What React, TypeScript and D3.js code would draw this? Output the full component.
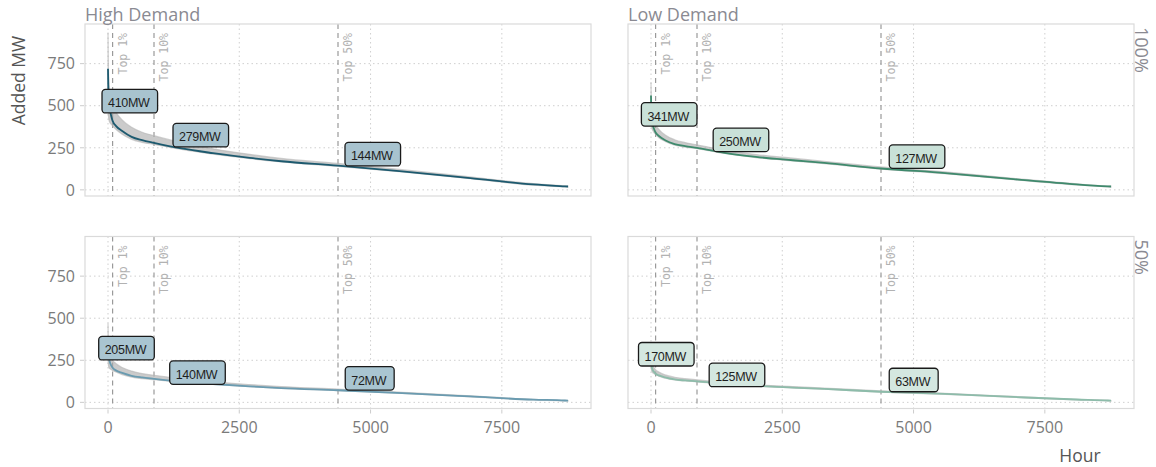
import React, { useEffect, useRef } from 'react';
import * as d3 from 'd3';

// Load-duration sample hours (sorted hours of the year)
const hours = [0, 5, 15, 35, 60, 87.6, 150, 270, 450, 650, 876, 1400, 2000, 2700, 3300, 4380, 5600, 6900, 8100, 8700, 8760];

// High Demand, 100%
const highFull = [720, 620, 540, 480, 440, 410, 380, 350, 315, 295, 279, 246, 218, 190, 170, 144, 110, 70, 32, 21, 20];
const highFullLo = [560, 460, 420, 400, 390, 380, 360, 330, 300, 282, 270, 240, 212, 186, 166, 140, 106, 66, 28, 18, 17];
const highFullHi = [935, 780, 660, 580, 530, 500, 462, 415, 372, 342, 322, 280, 244, 211, 187, 157, 120, 77, 37, 24, 22];

// Low Demand, 100%
const lowFull = [560, 470, 420, 385, 360, 341, 320, 295, 272, 260, 250, 220, 196, 176, 160, 127, 100, 64, 33, 21, 20];
const lowFullLo = [470, 400, 370, 352, 340, 330, 310, 288, 266, 254, 245, 216, 192, 172, 156, 123, 96, 60, 29, 18, 17];
const lowFullHi = [640, 550, 480, 440, 410, 388, 360, 326, 298, 281, 268, 236, 210, 188, 170, 136, 107, 69, 36, 23, 22];

// High Demand, 50%
const highHalf = [360, 310, 270, 240, 220, 205, 190, 175, 158, 148, 140, 123, 109, 95, 85, 72, 55, 35, 16, 11, 10];
const highHalfLo = [280, 230, 210, 200, 195, 190, 180, 165, 150, 141, 135, 120, 106, 93, 83, 70, 53, 33, 14, 9, 8];
const highHalfHi = [470, 390, 330, 290, 265, 250, 231, 207, 186, 171, 161, 140, 122, 106, 94, 79, 60, 39, 18, 12, 11];

// Low Demand, 50%
const lowHalf = [280, 235, 210, 192, 180, 170, 160, 148, 136, 130, 125, 110, 98, 88, 80, 63, 50, 32, 17, 11, 10];
const lowHalfLo = [235, 200, 185, 176, 170, 165, 155, 144, 133, 127, 122, 108, 96, 86, 78, 61, 48, 30, 15, 9, 8];
const lowHalfHi = [320, 275, 240, 220, 205, 194, 180, 163, 149, 141, 134, 118, 105, 94, 85, 68, 54, 35, 18, 12, 11];

// Percentile markers
const percentileHours = [87.6, 876, 4380];
const percentileNames = ['Top 1%', 'Top 10%', 'Top 50%'];

// Value labels at the percentile markers, with their label anchor (hour, MW)
const highFullLabels = [410, 279, 144];
const highFullLabelHour = [-114, 1238, 4513];
const highFullLabelMW = [457, 255, 142];
const lowFullLabels = [341, 250, 127];
const lowFullLabelHour = [-183, 1184, 4537];
const lowFullLabelMW = [379, 227, 128];
const highHalfLabels = [205, 140, 72];
const highHalfLabelHour = [-177, 1175, 4518];
const highHalfLabelMW = [252, 107, 73];
const lowHalfLabels = [170, 125, 63];
const lowHalfLabelHour = [-238, 1108, 4537];
const lowHalfLabelMW = [216, 93, 63];

const xTicks = [0, 2500, 5000, 7500];
const yTicks = [0, 250, 500, 750];
const demandNames = ['High Demand', 'Low Demand'];
const shareNames = ['100%', '50%'];

const W = 1156;
const H = 467;
const SANS = "'Open Sans', 'Noto Sans', sans-serif";

export default function App() {
  const ref = useRef<SVGSVGElement | null>(null);

  useEffect(() => {
    const svg = d3.select(ref.current);
    svg.selectAll('*').remove();

    const panelW = 506;
    const panelH = 172;
    const colX = [85, 628];
    const rowY = [24, 236.5];

    const x = d3.scaleLinear().domain([-438, 9198]).range([0, panelW]);
    const y = d3.scaleLinear().domain([-36.5, 985.5]).range([panelH, 0]);

    const panels = [
      { col: 0, row: 0, line: highFull, lo: highFullLo, hi: highFullHi, labels: highFullLabels, lh: highFullLabelHour, lm: highFullLabelMW, color: '#1d5a6f', fill: '#a8c3cf' },
      { col: 1, row: 0, line: lowFull, lo: lowFullLo, hi: lowFullHi, labels: lowFullLabels, lh: lowFullLabelHour, lm: lowFullLabelMW, color: '#3f8a6d', fill: '#c9e1d8' },
      { col: 0, row: 1, line: highHalf, lo: highHalfLo, hi: highHalfHi, labels: highHalfLabels, lh: highHalfLabelHour, lm: highHalfLabelMW, color: '#6a9bb0', fill: '#a9c5d1' },
      { col: 1, row: 1, line: lowHalf, lo: lowHalfLo, hi: lowHalfHi, labels: lowHalfLabels, lh: lowHalfLabelHour, lm: lowHalfLabelMW, color: '#8dbcaa', fill: '#d4e7e0' },
    ];

    panels.forEach((p) => {
      const g = svg.append('g').attr('transform', `translate(${colX[p.col]},${rowY[p.row]})`);

      // grid
      g.selectAll('.gx').data(xTicks).enter().append('line')
        .attr('x1', (d) => x(d)).attr('x2', (d) => x(d))
        .attr('y1', 0).attr('y2', panelH)
        .attr('stroke', '#cfcfcf').attr('stroke-width', 1).attr('stroke-dasharray', '1.5,3');
      g.selectAll('.gy').data(yTicks).enter().append('line')
        .attr('x1', 0).attr('x2', panelW)
        .attr('y1', (d) => y(d)).attr('y2', (d) => y(d))
        .attr('stroke', '#cfcfcf').attr('stroke-width', 1).attr('stroke-dasharray', '1.5,3');

      // percentile markers
      g.selectAll('.pl').data(percentileHours).enter().append('line')
        .attr('x1', (d) => x(d)).attr('x2', (d) => x(d))
        .attr('y1', 0).attr('y2', panelH)
        .attr('stroke', '#9a9a9a').attr('stroke-width', 1.2).attr('stroke-dasharray', '5,4');
      g.selectAll('.pt').data(percentileHours).enter().append('text')
        .attr('transform', (d) => `translate(${x(d) + 14},9) rotate(-90)`)
        .attr('text-anchor', 'end')
        .attr('font-family', "'DejaVu Sans Mono', monospace")
        .attr('font-size', 11.5)
        .attr('fill', '#b2b2b2')
        .text((_, i) => percentileNames[i]);

      const pts = hours.map((h, i) => ({ h, v: p.line[i], lo: p.lo[i], hi: p.hi[i] }));

      const band = d3.area<any>()
        .x((d) => x(d.h)).y0((d) => y(d.lo)).y1((d) => y(d.hi))
        .curve(d3.curveMonotoneX);
      g.append('path').attr('d', band(pts) as string)
        .attr('fill', '#a9a9a9').attr('fill-opacity', 0.6)
        .attr('stroke', '#b5b5b5').attr('stroke-width', 1.2).attr('stroke-opacity', 0.6);

      const line = d3.line<any>().x((d) => x(d.h)).y((d) => y(d.v)).curve(d3.curveMonotoneX);
      g.append('path').attr('d', line(pts) as string)
        .attr('fill', 'none').attr('stroke', p.color).attr('stroke-width', 1.8);

      // value labels
      p.labels.forEach((val, i) => {
        const lx = x(p.lh[i]);
        const by = y(p.lm[i]);
        const lg = g.append('g');
        const rect = lg.append('rect');
        const t = lg.append('text')
          .attr('x', lx + 6).attr('y', by - 5.5)
          .attr('font-family', "'Liberation Sans', Arial, sans-serif")
          .attr('font-size', 12.5)
          .attr('letter-spacing', -0.3)
          .attr('fill', '#1e1e1e')
          .text(`${val}MW`);
        const tw = (t.node() as SVGTextElement).getComputedTextLength();
        rect.attr('x', lx).attr('y', by - 23.5).attr('width', tw + 14).attr('height', 23.5)
          .attr('rx', 3.5).attr('ry', 3.5)
          .attr('fill', p.fill).attr('stroke', '#1a1a1a').attr('stroke-width', 1.3);
      });

      // panel border
      g.append('rect').attr('x', 0).attr('y', 0).attr('width', panelW).attr('height', panelH)
        .attr('fill', 'none').attr('stroke', '#dadada').attr('stroke-width', 1.2);

      // y axis on left column
      if (p.col === 0) {
        g.selectAll('.yt').data(yTicks).enter().append('line')
          .attr('x1', -5).attr('x2', -1).attr('y1', (d) => y(d)).attr('y2', (d) => y(d))
          .attr('stroke', '#cccccc');
        g.selectAll('.yl').data(yTicks).enter().append('text')
          .attr('x', -10).attr('y', (d) => y(d)).attr('dy', '0.36em')
          .attr('text-anchor', 'end')
          .attr('font-family', SANS).attr('font-size', 16).attr('fill', '#7a7a7a')
          .text((d) => String(d));
      }
      // x axis on bottom row
      if (p.row === 1) {
        g.selectAll('.xt').data(xTicks).enter().append('line')
          .attr('x1', (d) => x(d)).attr('x2', (d) => x(d)).attr('y1', panelH + 1).attr('y2', panelH + 5)
          .attr('stroke', '#cccccc');
        g.selectAll('.xl').data(xTicks).enter().append('text')
          .attr('x', (d) => x(d)).attr('y', panelH + 24)
          .attr('text-anchor', 'middle')
          .attr('font-family', SANS).attr('font-size', 16).attr('fill', '#7a7a7a')
          .text((d) => String(d));
      }
    });

    // facet strips
    demandNames.forEach((name, i) => {
      svg.append('text').attr('x', colX[i]).attr('y', 20.5)
        .attr('font-family', SANS).attr('font-size', 18).attr('fill', '#8a8a92')
        .text(name);
    });
    shareNames.forEach((name, i) => {
      svg.append('text')
        .attr('transform', `translate(${colX[1] + panelW + 1},${rowY[i] + 3}) rotate(90)`)
        .attr('text-anchor', 'start')
        .attr('font-family', SANS).attr('font-size', 18).attr('fill', '#8a8a92')
        .text(name);
    });

    // axis titles
    svg.append('text')
      .attr('transform', 'translate(25,80.5) rotate(-90)')
      .attr('text-anchor', 'middle')
      .attr('font-family', SANS).attr('font-size', 17.5).attr('fill', '#555')
      .text('Added MW');
    svg.append('text')
      .attr('x', 1080).attr('y', 461.5)
      .attr('text-anchor', 'middle')
      .attr('font-family', SANS).attr('font-size', 17.5).attr('fill', '#555')
      .text('Hour');
  }, []);

  return (
    <svg
      ref={ref}
      width={W}
      height={H}
      style={{ position: 'absolute', left: 0, top: 0, display: 'block', background: '#fff' }}
    />
  );
}
